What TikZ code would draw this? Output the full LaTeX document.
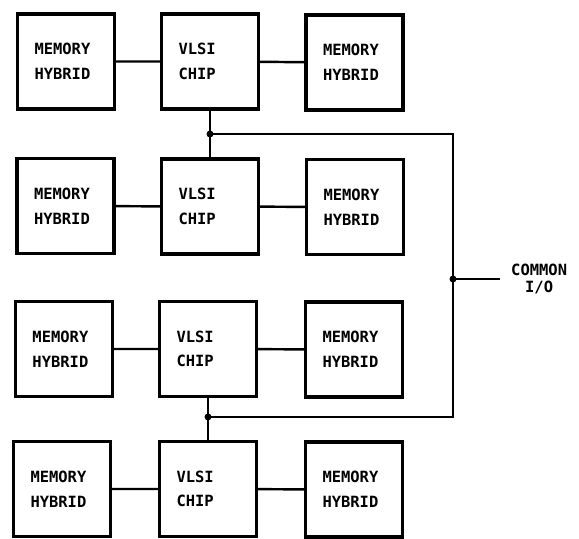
\documentclass[tikz,border=0pt]{standalone}
\usepackage{fontspec}
\setmonofont{DejaVu Sans Mono}
\usepackage{tikz}
\usetikzlibrary{positioning}

\begin{document}
\begin{tikzpicture}[
  box/.style={draw,line width=1.8pt,minimum width=1.94cm,minimum height=1.9cm,
              text width=1.26cm,inner xsep=0.34cm,align=left,
              font=\fontsize{8.8}{14}\selectfont\ttfamily\bfseries},
  wire/.style={line width=1.4pt},
  dot/.style={circle,fill,inner sep=0pt,minimum size=1.4mm}]
\useasboundingbox (0,0) rectangle (11.58,-10.76);
% row 1
\node[box] (m1l) at (1.32,-1.23) {MEMORY\\HYBRID};
\node[box] (c1)  at (4.20,-1.23) {VLSI\\CHIP};
\node[box] (m1r) at (7.09,-1.25) {MEMORY\\HYBRID};
% row 2
\node[box] (m2l) at (1.31,-4.12) {MEMORY\\HYBRID};
\node[box] (c2)  at (4.20,-4.13) {VLSI\\CHIP};
\node[box] (m2r) at (7.10,-4.14) {MEMORY\\HYBRID};
% row 3
\node[box] (m3l) at (1.28,-6.98) {MEMORY\\HYBRID};
\node[box] (c3)  at (4.16,-6.98) {VLSI\\CHIP};
\node[box] (m3r) at (7.08,-6.99) {MEMORY\\HYBRID};
% row 4
\node[box] (m4l) at (1.24,-9.78) {MEMORY\\HYBRID};
\node[box] (c4)  at (4.16,-9.78) {VLSI\\CHIP};
\node[box] (m4r) at (7.08,-9.79) {MEMORY\\HYBRID};
% memory links
\draw[wire] (m1l) -- (c1) -- (m1r);
\draw[wire] (m2l) -- (c2) -- (m2r);
\draw[wire] (m3l) -- (c3) -- (m3r);
\draw[wire] (m4l) -- (c4) -- (m4r);
% common bus
\draw[wire] (c1.south) -- (c2.north) coordinate[pos=.5] (j1);
\draw[wire] (c3.south) -- (c4.north) coordinate[pos=.45] (j2);
\coordinate (io) at (9.06,-5.58);
\coordinate (ioend) at (10.0,-5.58);
\draw[wire] (j1) -| (io) |- (j2);
\draw[wire] (io) -- (ioend);
\node[dot] at (j1) {};
\node[dot] at (j2) {};
\node[dot] at (io) {};
\node[right=0.1cm of ioend,align=center,
      font=\fontsize{8.8}{10}\selectfont\ttfamily\bfseries] (lbl) {COMMON\\I/O};
\end{tikzpicture}
\end{document}
